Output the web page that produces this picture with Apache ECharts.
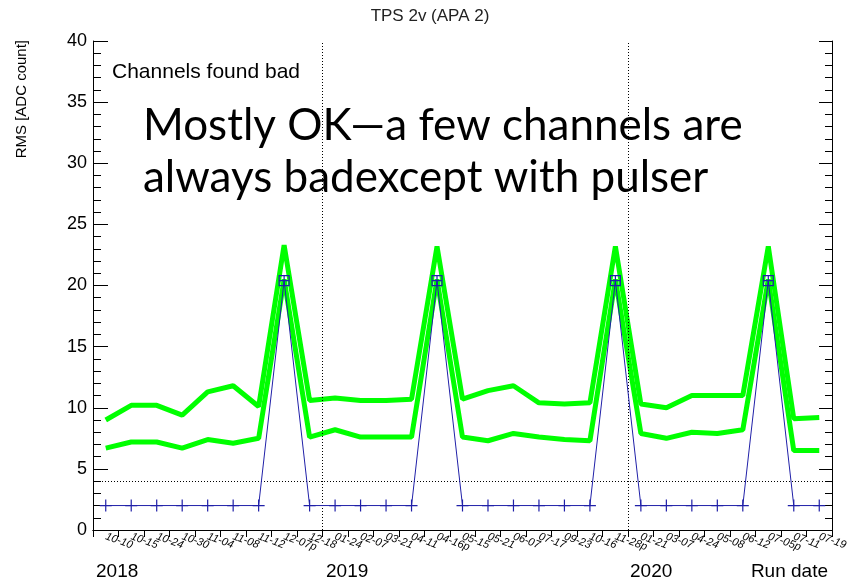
<!DOCTYPE html>
<html>
<head>
<meta charset="utf-8">
<title>TPS 2v (APA 2)</title>
<script src="https://cdn.jsdelivr.net/npm/echarts@6/dist/echarts.min.js"></script>
<style>
  html, body { margin: 0; padding: 0; background: #fff; }
  #main { width: 860px; height: 584px; }
</style>
</head>
<body>
<div id="main"></div>
<script>
// run dates (bins), "p" = run taken with pulser
const runDates = ['10-10', '10-15', '10-24', '10-30', '11-04', '11-08', '11-12', '12-07p', '12-18',
  '01-24', '02-07', '03-21', '04-11', '04-16p', '05-15', '05-21', '06-07', '07-17', '09-23',
  '10-16', '11-28p', '01-21', '03-07', '04-24', '05-08', '06-12', '07-05p', '07-11', '07-19']

// RMS of the bad channels
const rmsHigh = [9.0, 10.2, 10.2, 9.4, 11.3, 11.8, 10.1, 23.3, 10.6, 10.8, 10.6, 10.6, 10.7, 23.2, 10.7,
  11.4, 11.8, 10.4, 10.3, 10.4, 23.2, 10.3, 10.0, 11.0, 11.0, 11.0, 23.2, 9.1, 9.2]
const rmsLow = [6.7, 7.2, 7.2, 6.7, 7.4, 7.1, 7.5, 20.5, 7.6, 8.2, 7.6, 7.6, 7.6, 20.5, 7.6,
  7.3, 7.9, 7.6, 7.4, 7.3, 20.5, 7.9, 7.5, 8.0, 7.9, 8.2, 20.5, 6.5, 6.5]
const rmsCount = [2, 2, 2, 2, 2, 2, 2, 20.4, 2, 2, 2, 2, 2, 20.4, 2,
  2, 2, 2, 2, 2, 20.4, 2, 2, 2, 2, 2, 20.4, 2, 2]

const yTicks = [0, 5, 10, 15, 20, 25, 30, 35, 40]
const threshold = 4
// bin edges where a new year starts
const yearEdges = [9, 21]
const years = ['2018', '2019', '2020']

const font = "'Liberation Sans', Arial, sans-serif"
const navy = '#2020a8'
const plusSym = 'path://M0,5H10M5,0V10'
const boxSym = 'path://M0,0H10V10H0ZM5,0V10M0,5H10'

const myChart = echarts.init(document.getElementById('main'))

myChart.setOption({
  animation: false,
  title: {
    text: 'TPS 2v (APA 2)',
    left: 'center',
    top: 3,
    textStyle: { fontFamily: font, fontSize: 17, fontWeight: 'normal', color: '#222' }
  },
  grid: { left: 93, right: 28, top: 41, bottom: 54 },
  xAxis: [
    {
      type: 'category',
      data: runDates,
      boundaryGap: true,
      axisLine: { lineStyle: { color: '#000', width: 1 } },
      axisTick: { inside: true, length: 16, lineStyle: { color: '#000' } },
      axisLabel: {
        interval: 0,
        rotate: -20,
        margin: 6,
        hideOverlap: false,
        fontFamily: font,
        fontStyle: 'italic',
        fontSize: 11,
        color: '#000'
      },
      splitLine: { show: false }
    },
    {
      // top side: one tick per bin, also used for the year lines
      type: 'value',
      position: 'top',
      min: 0,
      max: 29,
      interval: 1,
      axisLine: { show: true, lineStyle: { color: '#000', width: 1 } },
      axisTick: { show: true, inside: true, length: 7, lineStyle: { color: '#000' } },
      axisLabel: { show: false },
      splitLine: { show: false }
    }
  ],
  yAxis: [
    {
      type: 'value',
      min: yTicks[0],
      max: yTicks[yTicks.length - 1],
      interval: 5,
      axisLine: { show: true, lineStyle: { color: '#000', width: 1 } },
      axisTick: { show: true, inside: true, length: 15, lineStyle: { color: '#000' } },
      minorTick: { show: true, splitNumber: 5, length: 8, lineStyle: { color: '#000' } },
      axisLabel: { fontFamily: font, fontSize: 18, color: '#000', margin: 6 },
      splitLine: { show: false }
    },
    {
      type: 'value',
      position: 'right',
      min: yTicks[0],
      max: yTicks[yTicks.length - 1],
      interval: 5,
      axisLine: { show: true, lineStyle: { color: '#000', width: 1 } },
      axisTick: { show: true, inside: true, length: 13, lineStyle: { color: '#000' } },
      minorTick: { show: true, splitNumber: 5, length: 7, lineStyle: { color: '#000' } },
      axisLabel: { show: false },
      splitLine: { show: false }
    }
  ],
  graphic: [
    {
      type: 'text',
      left: 14,
      top: 40,
      rotation: Math.PI / 2,
      style: { text: 'RMS [ADC count]', font: '15px ' + font, fill: '#000' }
    },
    {
      type: 'text',
      left: 112,
      top: 62,
      style: { text: 'Channels found bad', font: '21px ' + font, fill: '#000' }
    },
    {
      type: 'text',
      left: 143,
      top: 100,
      style: {
        text: 'Mostly OK\u2014a few channels are\nalways badexcept with pulser',
        font: "44px Lato, 'Open Sans', sans-serif",
        lineHeight: 52,
        fill: '#000'
      }
    },
    { type: 'text', left: 96, top: 562, style: { text: years[0], font: '19px ' + font, fill: '#000' } },
    { type: 'text', left: 326, top: 562, style: { text: years[1], font: '19px ' + font, fill: '#000' } },
    { type: 'text', left: 630, top: 562, style: { text: years[2], font: '19px ' + font, fill: '#000' } },
    { type: 'text', right: 32, top: 562, style: { text: 'Run date', font: '19px ' + font, fill: '#000' } }
  ],
  series: [
    {
      // dotted guide lines: threshold and new year
      type: 'line',
      xAxisIndex: 1,
      yAxisIndex: 0,
      data: [],
      silent: true,
      markLine: {
        symbol: 'none',
        silent: true,
        label: { show: false },
        lineStyle: { color: '#000', type: [1, 2], width: 1 },
        data: [
          { yAxis: threshold },
          { xAxis: yearEdges[0] },
          { xAxis: yearEdges[1] }
        ]
      }
    },
    {
      name: 'high',
      type: 'line',
      data: rmsHigh,
      showSymbol: false,
      lineStyle: { color: '#00ff00', width: 5 },
      itemStyle: { color: '#00ff00' }
    },
    {
      name: 'low',
      type: 'line',
      data: rmsLow,
      showSymbol: false,
      lineStyle: { color: '#00ff00', width: 5 },
      itemStyle: { color: '#00ff00' }
    },
    {
      name: 'count',
      type: 'line',
      data: rmsCount.map((v, i) => ({
        value: v,
        symbol: runDates[i].endsWith('p') ? boxSym : plusSym,
        symbolSize: runDates[i].endsWith('p') ? 10 : 12
      })),
      showSymbol: true,
      lineStyle: { color: navy, width: 1 },
      itemStyle: { color: 'rgba(0,0,0,0)', borderColor: navy, borderWidth: 1.2 },
      z: 5
    }
  ]
})
</script>
</body>
</html>
